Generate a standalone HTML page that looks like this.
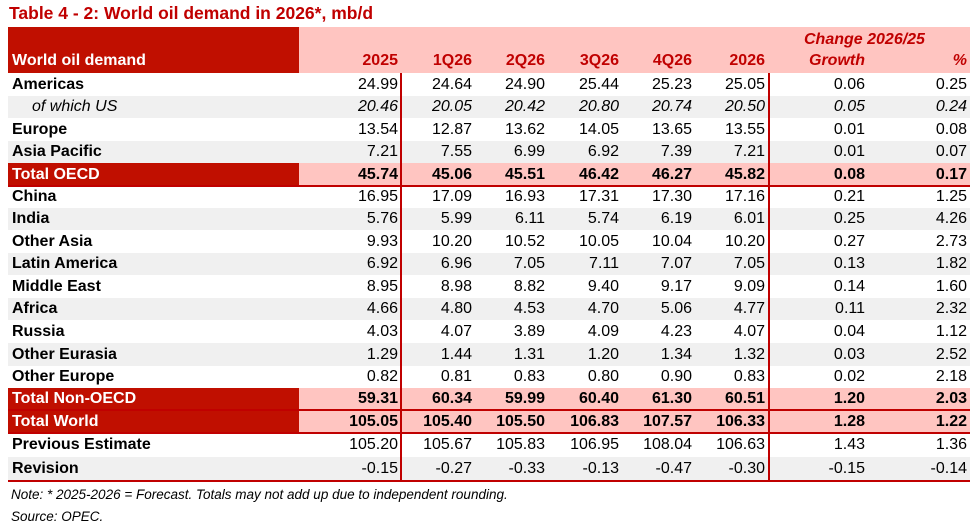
<!DOCTYPE html>
<html><head><meta charset="utf-8"><style>
body{margin:0;width:975px;height:530px;background:#fff;font-family:"Liberation Sans",Arial,sans-serif;position:relative;overflow:hidden}
div{position:absolute;box-sizing:border-box}
.t{white-space:nowrap;font-size:16px;line-height:22px}
.r{text-align:right}
</style></head><body>
<div class="t" style="left:9px;top:2px;font-size:17.5px;font-weight:bold;color:#c00000;">Table 4 - 2: World oil demand in 2026*, mb/d</div>
<div style="left:8px;top:27px;width:291px;height:46px;background:#c00f00"></div>
<div style="left:299px;top:27px;width:671px;height:46px;background:#ffc5c1"></div>
<div class="t" style="left:12px;top:50px;color:#fff;font-weight:bold">World oil demand</div>
<div class="t" style="left:804px;top:29px;color:#c00000;font-weight:bold;font-style:italic">Change 2026/25</div>
<div id="tbl" style="left:0;top:0;width:975px;height:530px"></div>
<div class="t" style="left:11px;top:486px;font-size:13.5px;font-style:italic;line-height:18px">Note: * 2025-2026 = Forecast. Totals may not add up due to independent rounding.</div>
<div class="t" style="left:11px;top:508px;font-size:13.5px;font-style:italic;line-height:18px">Source: OPEC.</div>
<script>
const headers=["2025","1Q26","2Q26","3Q26","4Q26","2026","Growth","%"];
const labels=["Americas","of which US","Europe","Asia Pacific","Total OECD","China","India","Other Asia","Latin America","Middle East","Africa","Russia","Other Eurasia","Other Europe","Total Non-OECD","Total World","Previous Estimate","Revision"];
const values=[
["24.99","24.64","24.90","25.44","25.23","25.05","0.06","0.25"],
["20.46","20.05","20.42","20.80","20.74","20.50","0.05","0.24"],
["13.54","12.87","13.62","14.05","13.65","13.55","0.01","0.08"],
["7.21","7.55","6.99","6.92","7.39","7.21","0.01","0.07"],
["45.74","45.06","45.51","46.42","46.27","45.82","0.08","0.17"],
["16.95","17.09","16.93","17.31","17.30","17.16","0.21","1.25"],
["5.76","5.99","6.11","5.74","6.19","6.01","0.25","4.26"],
["9.93","10.20","10.52","10.05","10.04","10.20","0.27","2.73"],
["6.92","6.96","7.05","7.11","7.07","7.05","0.13","1.82"],
["8.95","8.98","8.82","9.40","9.17","9.09","0.14","1.60"],
["4.66","4.80","4.53","4.70","5.06","4.77","0.11","2.32"],
["4.03","4.07","3.89","4.09","4.23","4.07","0.04","1.12"],
["1.29","1.44","1.31","1.20","1.34","1.32","0.03","2.52"],
["0.82","0.81","0.83","0.80","0.90","0.83","0.02","2.18"],
["59.31","60.34","59.99","60.40","61.30","60.51","1.20","2.03"],
["105.05","105.40","105.50","106.83","107.57","106.33","1.28","1.22"],
["105.20","105.67","105.83","106.95","108.04","106.63","1.43","1.36"],
["-0.15","-0.27","-0.33","-0.13","-0.47","-0.30","-0.15","-0.14"]];
const totals=[4,14,15];
const greys=[1,3,6,8,10,12,17];
const rights=[398,472,545,619,692,765,865,967];
const tops=[73,96,118,141,163,186,208,230,253,275,298,320,343,366,388,410,433,457,481];
const T=document.getElementById('tbl');
function mk(css,txt){const d=document.createElement('div');d.style.cssText=css;if(txt!==undefined)d.textContent=txt;T.appendChild(d);return d;}
labels.forEach((lab,i)=>{
 const y=tops[i],h=tops[i+1]-tops[i];
 const isT=totals.includes(i);
 const bg=isT?'#ffc5c1':(greys.includes(i)?'#f0f0f0':'#fff');
 const row=mk('left:8px;top:'+y+'px;width:962px;height:'+h+'px;background:'+bg);
 
 
 if(isT){const lc=mk('left:8px;top:'+y+'px;width:291px;height:'+h+'px;background:#c00f00');
  
  }
 const ty=y+(h-22)/2;
 const it=i==1;
 const l=mk('left:'+(it?32:12)+'px;top:'+ty+'px;font-weight:'+(it?'normal':'bold')+';'+(it?'font-style:italic;':'')+'color:'+(isT?'#fff':'#000'),lab);l.className='t';
 
 
 values[i].forEach((v,j)=>{
  const c=mk('right:'+(975-rights[j])+'px;top:'+ty+'px;'+(isT?'font-weight:bold;':'')+(it?'font-style:italic;':''),v);c.className='t r';
  
  
 });
});
headers.forEach((h,j)=>{
 const d=mk('right:'+(975-rights[j])+'px;top:50px;color:#c00000;font-weight:bold;'+(j>=6?'font-style:italic;':''),h);d.className='t r';
 
 
});
[5,15,16,18].forEach((k)=>{
 const ln=mk('left:8px;top:'+(tops[k]-1)+'px;width:962px;height:1.5px;background:#c00000');
 
 
});
const v1=mk('left:400px;top:73px;width:1.5px;height:408px;background:#c00000');


const v2=mk('left:768px;top:73px;width:1.5px;height:408px;background:#c00000');


</script>
</body></html>
